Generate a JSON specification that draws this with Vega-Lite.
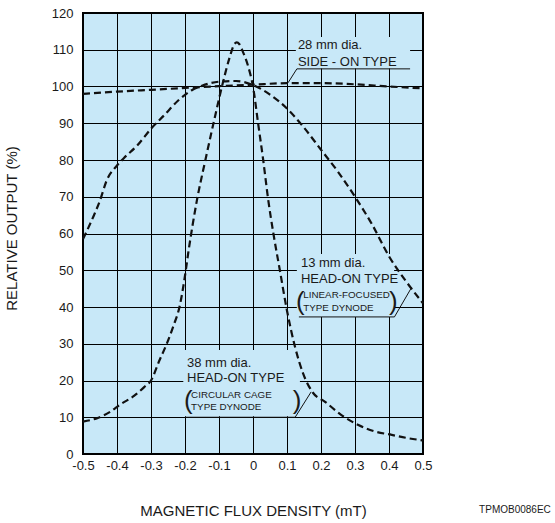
{
  "$schema": "https://vega.github.io/schema/vega-lite/v6.json",
  "width": 340,
  "height": 441,
  "autosize": {"type": "none"},
  "padding": {"left": 83, "top": 13, "right": 132, "bottom": 69},
  "background": "white",
  "config": {
    "view": {"fill": "#c8e8f8", "stroke": "#000000", "strokeWidth": 2},
    "font": "Liberation Sans",
    "axis": {"labelFont": "Liberation Sans", "titleFont": "Liberation Sans", "labelColor": "#1a1a1a", "titleColor": "#1a1a1a", "titleFontWeight": "normal", "grid": true, "gridColor": "#000000", "gridWidth": 1, "gridOpacity": 1, "domain": false, "ticks": false, "labelFontSize": 13, "labelOverlap": false, "labelFlush": false, "labelBound": false}
  },
  "layer": [
    {
      "data": {"values": [
        {"x1": 0.126, "x2": 0.462, "y1": 104.9, "y2": 113.5},
        {"x1": 0.129, "x2": 0.415, "y1": 37.3, "y2": 54.4},
        {"x1": -0.205, "x2": 0.138, "y1": 10.3, "y2": 28.3}
      ]},
      "mark": {"type": "rect", "fill": "#c8e8f8", "stroke": null},
      "encoding": {
        "x": {"field": "x1", "type": "quantitative", "scale": {"domain": [-0.5, 0.5], "nice": false, "zero": false},
          "axis": {"values": [-0.5, -0.4, -0.3, -0.2, -0.1, 0, 0.1, 0.2, 0.3, 0.4, 0.5], "tickCount": 30, "format": ".1~f", "labelExpr": "replace(datum.label, '\u2212', '-')", "labelPadding": 5, "labelFlush": false, "title": "MAGNETIC FLUX DENSITY (mT)", "titleFontSize": 15, "titleBaseline": "middle", "titleY": 56}},
        "x2": {"field": "x2"},
        "y": {"field": "y1", "type": "quantitative", "scale": {"domain": [0, 120], "nice": false, "zero": false},
          "axis": {"values": [0, 10, 20, 30, 40, 50, 60, 70, 80, 90, 100, 110, 120], "tickCount": 30, "labelPadding": 10, "labelFlush": false, "title": "RELATIVE OUTPUT (%)", "titleFontSize": 15, "titleX": -64, "titleY": 215}},
        "y2": {"field": "y2"}
      }
    },
    {
      "data": {"values": [
        {"s": "A", "x": -0.5, "y": 98.0},
        {"s": "A", "x": -0.4, "y": 98.6},
        {"s": "A", "x": -0.3, "y": 99.1},
        {"s": "A", "x": -0.2, "y": 99.6},
        {"s": "A", "x": -0.1, "y": 100.1},
        {"s": "A", "x": 0.0, "y": 100.5},
        {"s": "A", "x": 0.1, "y": 100.9},
        {"s": "A", "x": 0.2, "y": 100.9},
        {"s": "A", "x": 0.3, "y": 100.6},
        {"s": "A", "x": 0.4, "y": 100.0},
        {"s": "A", "x": 0.5, "y": 99.5},
        {"s": "B", "x": -0.5, "y": 58.5},
        {"s": "B", "x": -0.47, "y": 64.5},
        {"s": "B", "x": -0.45, "y": 69.0},
        {"s": "B", "x": -0.43, "y": 74.5},
        {"s": "B", "x": -0.4, "y": 78.5},
        {"s": "B", "x": -0.38, "y": 80.5},
        {"s": "B", "x": -0.34, "y": 84.0},
        {"s": "B", "x": -0.3, "y": 88.5},
        {"s": "B", "x": -0.26, "y": 92.3},
        {"s": "B", "x": -0.22, "y": 96.2},
        {"s": "B", "x": -0.18, "y": 99.0},
        {"s": "B", "x": -0.15, "y": 100.2},
        {"s": "B", "x": -0.1, "y": 101.3},
        {"s": "B", "x": -0.05, "y": 101.5},
        {"s": "B", "x": 0.0, "y": 100.4},
        {"s": "B", "x": 0.05, "y": 97.8},
        {"s": "B", "x": 0.1, "y": 94.0},
        {"s": "B", "x": 0.15, "y": 88.8},
        {"s": "B", "x": 0.2, "y": 82.8},
        {"s": "B", "x": 0.25, "y": 76.8},
        {"s": "B", "x": 0.3, "y": 70.0},
        {"s": "B", "x": 0.35, "y": 62.5},
        {"s": "B", "x": 0.4, "y": 53.8},
        {"s": "B", "x": 0.45, "y": 47.0},
        {"s": "B", "x": 0.5, "y": 41.0},
        {"s": "C", "x": -0.5, "y": 8.8},
        {"s": "C", "x": -0.46, "y": 9.7},
        {"s": "C", "x": -0.42, "y": 11.5},
        {"s": "C", "x": -0.39, "y": 13.5},
        {"s": "C", "x": -0.35, "y": 15.8},
        {"s": "C", "x": -0.32, "y": 18.2},
        {"s": "C", "x": -0.3, "y": 20.0},
        {"s": "C", "x": -0.275, "y": 25.5},
        {"s": "C", "x": -0.255, "y": 29.7},
        {"s": "C", "x": -0.235, "y": 34.6},
        {"s": "C", "x": -0.215, "y": 40.5},
        {"s": "C", "x": -0.2, "y": 48.5},
        {"s": "C", "x": -0.19, "y": 55.0},
        {"s": "C", "x": -0.165, "y": 69.0},
        {"s": "C", "x": -0.14, "y": 80.0},
        {"s": "C", "x": -0.115, "y": 90.5},
        {"s": "C", "x": -0.09, "y": 100.5},
        {"s": "C", "x": -0.07, "y": 107.5},
        {"s": "C", "x": -0.055, "y": 111.5},
        {"s": "C", "x": -0.048, "y": 112.0},
        {"s": "C", "x": -0.04, "y": 111.5},
        {"s": "C", "x": -0.03, "y": 109.5},
        {"s": "C", "x": -0.014, "y": 105.4},
        {"s": "C", "x": 0.0, "y": 100.0},
        {"s": "C", "x": 0.015, "y": 90.0},
        {"s": "C", "x": 0.03, "y": 80.0},
        {"s": "C", "x": 0.045, "y": 69.0},
        {"s": "C", "x": 0.06, "y": 60.0},
        {"s": "C", "x": 0.079, "y": 50.0},
        {"s": "C", "x": 0.1, "y": 39.0},
        {"s": "C", "x": 0.124, "y": 29.0},
        {"s": "C", "x": 0.147, "y": 22.0},
        {"s": "C", "x": 0.177, "y": 16.6},
        {"s": "C", "x": 0.212, "y": 14.2},
        {"s": "C", "x": 0.26, "y": 10.6},
        {"s": "C", "x": 0.31, "y": 7.9},
        {"s": "C", "x": 0.36, "y": 6.1},
        {"s": "C", "x": 0.408, "y": 5.2},
        {"s": "C", "x": 0.45, "y": 4.4},
        {"s": "C", "x": 0.5, "y": 3.7}
      ]},
      "mark": {"type": "line", "interpolate": "monotone", "color": "#111111", "strokeWidth": 2.2, "strokeDash": [7, 4]},
      "encoding": {
        "x": {"field": "x", "type": "quantitative", "scale": {"domain": [-0.5, 0.5], "nice": false, "zero": false}},
        "y": {"field": "y", "type": "quantitative", "scale": {"domain": [0, 120], "nice": false, "zero": false}},
        "detail": {"field": "s", "type": "nominal"}
      }
    },
    {
      "data": {"values": [
        {"x1": 0.129, "y1": 104.8, "x2": 0.462, "y2": 104.8},
        {"x1": 0.129, "y1": 104.8, "x2": 0.103, "y2": 101.0},
        {"x1": 0.135, "y1": 37.3, "x2": 0.416, "y2": 37.3},
        {"x1": 0.416, "y1": 37.3, "x2": 0.467, "y2": 45.4},
        {"x1": -0.2, "y1": 10.0, "x2": 0.124, "y2": 10.0},
        {"x1": 0.124, "y1": 10.0, "x2": 0.171, "y2": 16.9}
      ]},
      "mark": {"type": "rule", "color": "#111111", "strokeWidth": 1},
      "encoding": {
        "x": {"field": "x1", "type": "quantitative", "scale": {"domain": [-0.5, 0.5], "nice": false, "zero": false}},
        "x2": {"field": "x2"},
        "y": {"field": "y1", "type": "quantitative", "scale": {"domain": [0, 120], "nice": false, "zero": false}},
        "y2": {"field": "y2"}
      }
    },
    {
      "data": {"values": [
        {"x": 0.132, "y": 111.3, "t": "28 mm dia."},
        {"x": 0.132, "y": 106.8, "t": "SIDE - ON TYPE"},
        {"x": 0.141, "y": 52.0, "t": "13 mm dia."},
        {"x": 0.141, "y": 47.6, "t": "HEAD-ON TYPE"},
        {"x": -0.194, "y": 24.8, "t": "38 mm dia."},
        {"x": -0.194, "y": 20.7, "t": "HEAD-ON TYPE"}
      ]},
      "mark": {"type": "text", "align": "left", "baseline": "middle", "font": "Liberation Sans", "fontSize": 13, "color": "#1a1a1a"},
      "encoding": {
        "x": {"field": "x", "type": "quantitative", "scale": {"domain": [-0.5, 0.5], "nice": false, "zero": false}},
        "y": {"field": "y", "type": "quantitative", "scale": {"domain": [0, 120], "nice": false, "zero": false}},
        "text": {"field": "t"}
      }
    },
    {
      "data": {"values": [
        {"x": 0.148, "y": 43.3, "t": "LINEAR-FOCUSED"},
        {"x": 0.148, "y": 39.7, "t": "TYPE DYNODE"},
        {"x": -0.182, "y": 16.1, "t": "CIRCULAR CAGE"},
        {"x": -0.182, "y": 12.8, "t": "TYPE DYNODE"}
      ]},
      "mark": {"type": "text", "align": "left", "baseline": "middle", "font": "Liberation Sans", "fontSize": 9.8, "color": "#1a1a1a"},
      "encoding": {
        "x": {"field": "x", "type": "quantitative", "scale": {"domain": [-0.5, 0.5], "nice": false, "zero": false}},
        "y": {"field": "y", "type": "quantitative", "scale": {"domain": [0, 120], "nice": false, "zero": false}},
        "text": {"field": "t"}
      }
    },
    {
      "data": {"values": [
        {"x": 0.139, "y": 41.4, "t": "("},
        {"x": 0.413, "y": 41.4, "t": ")"},
        {"x": -0.19, "y": 14.4, "t": "("},
        {"x": 0.13, "y": 14.4, "t": ")"}
      ]},
      "mark": {"type": "text", "align": "center", "baseline": "middle", "font": "Liberation Sans", "fontSize": 26, "color": "#1a1a1a"},
      "encoding": {
        "x": {"field": "x", "type": "quantitative", "scale": {"domain": [-0.5, 0.5], "nice": false, "zero": false}},
        "y": {"field": "y", "type": "quantitative", "scale": {"domain": [0, 120], "nice": false, "zero": false}},
        "text": {"field": "t"}
      }
    },
    {
      "data": {"values": [
        {"x": 0.665, "y": -15.2, "t": "TPMOB0086EC"}
      ]},
      "mark": {"type": "text", "align": "left", "baseline": "middle", "font": "Liberation Sans", "fontSize": 10, "color": "#1a1a1a"},
      "encoding": {
        "x": {"field": "x", "type": "quantitative", "scale": {"domain": [-0.5, 0.5], "nice": false, "zero": false}},
        "y": {"field": "y", "type": "quantitative", "scale": {"domain": [0, 120], "nice": false, "zero": false}},
        "text": {"field": "t"}
      }
    }
  ]
}
